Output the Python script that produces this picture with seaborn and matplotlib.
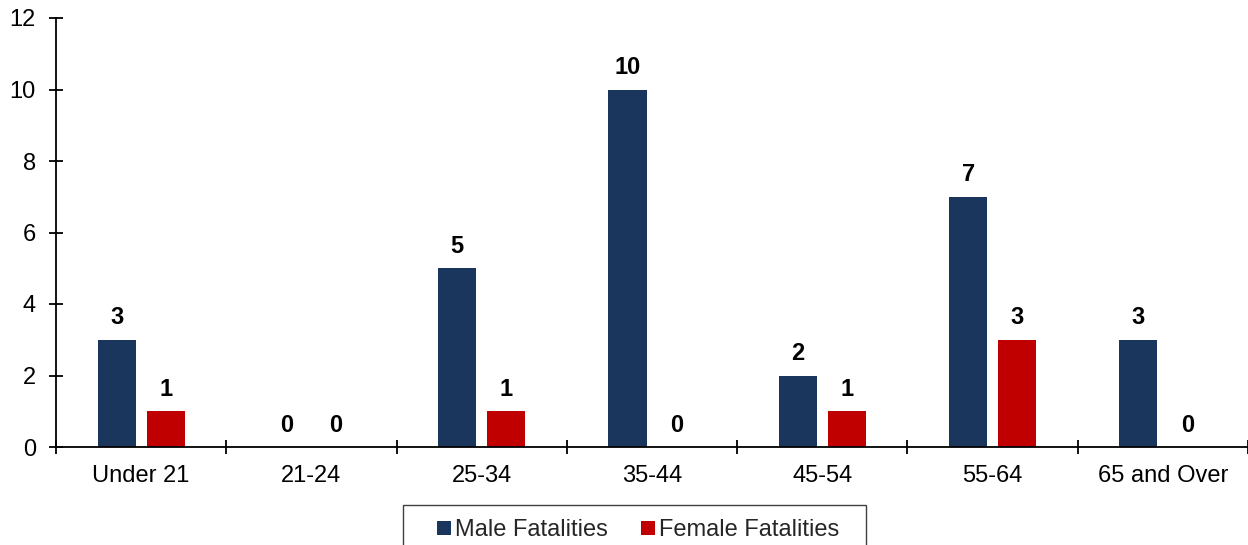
import matplotlib
matplotlib.use("Agg")
import matplotlib.pyplot as plt
from matplotlib.lines import Line2D
from matplotlib.patches import Rectangle
import numpy as np
import pandas as pd
import seaborn as sns

# Fatalities by age group
age_groups = ["Under 21", "21-24", "25-34", "35-44", "45-54", "55-64", "65 and Over"]
male_fatalities = [3, 0, 5, 10, 2, 7, 3]
female_fatalities = [1, 0, 1, 0, 1, 3, 0]
series_names = ["Male Fatalities", "Female Fatalities"]
y_ticks = [0, 2, 4, 6, 8, 10, 12]

colors = {"Male Fatalities": "#1B365D", "Female Fatalities": "#C00000"}

df = pd.DataFrame({
    "Age Group": age_groups * 2,
    "Series": [series_names[0]] * len(age_groups) + [series_names[1]] * len(age_groups),
    "Fatalities": male_fatalities + female_fatalities,
})

sns.set_theme(style="white")
plt.rcParams["font.family"] = ["Liberation Sans", "DejaVu Sans"]

fig = plt.figure(figsize=(12.48, 5.45), dpi=100)
ax = fig.add_axes([56 / 1248, 1 - 447 / 545, 1 - 56 / 1248, (447 - 18) / 545])

sns.barplot(data=df, x="Age Group", y="Fatalities", hue="Series",
            order=age_groups, hue_order=series_names, palette=colors,
            width=0.575, gap=0.22, linewidth=0, saturation=1, ax=ax)

for container in ax.containers:
    ax.bar_label(container, fmt="%d", padding=7.5, fontsize=17,
                 fontweight="bold", color="black")

ax.set_ylim(0, 12)
ax.set_yticks(y_ticks)
ax.set_xlim(-0.5, len(age_groups) - 0.5)
ax.set_xlabel("")
ax.set_ylabel("")

for side in ("top", "right"):
    ax.spines[side].set_visible(False)
for side in ("left", "bottom"):
    ax.spines[side].set_color("black")
    ax.spines[side].set_linewidth(1.3)

ax.tick_params(axis="y", which="major", direction="inout", length=10,
               width=1.3, color="black", labelsize=17, pad=9.5, left=True)
ax.tick_params(axis="x", which="major", length=0, labelsize=17, pad=13)
ax.set_xticks(np.arange(-0.5, len(age_groups), 1.0), minor=True)
ax.tick_params(axis="x", which="minor", direction="inout", length=10,
               width=1.3, color="black", bottom=True)
for lbl in ax.get_xticklabels() + ax.get_yticklabels():
    lbl.set_color("black")

ax.get_legend().remove()
handles = [Line2D([0], [0], marker="s", linestyle="none", markersize=10,
                  markerfacecolor=colors[n], markeredgewidth=0) for n in series_names]
fig.legend(handles, series_names, loc="center left",
           bbox_to_anchor=(437 / 1248, 1 - 530 / 545), frameon=False,
           ncol=2, fontsize=17, handlelength=0.6, handletextpad=0.17,
           columnspacing=1.4, borderpad=0, borderaxespad=0)
fig.add_artist(Rectangle((403 / 1248, -0.05), (866 - 403) / 1248, 0.05 + 1 - 505 / 545,
                         transform=fig.transFigure, fill=False,
                         edgecolor="#404040", linewidth=1.0))

fig.savefig("out.png", dpi=100)
